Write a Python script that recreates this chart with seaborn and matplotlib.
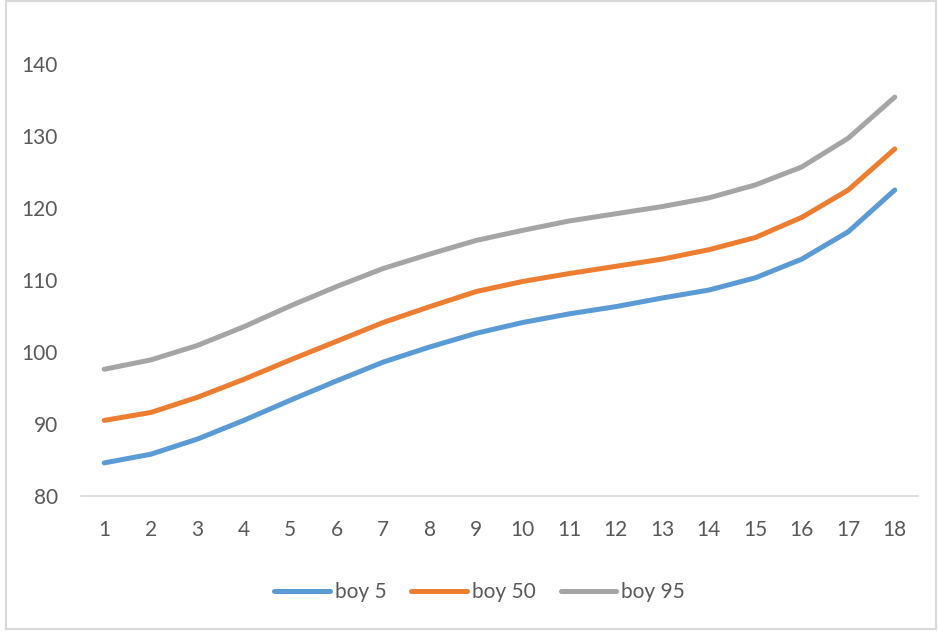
import matplotlib
matplotlib.use("Agg")
import matplotlib.pyplot as plt
from matplotlib.patches import Rectangle
import pandas as pd
import seaborn as sns

# Age categories and height percentiles (cm)
ages = list(range(1, 19))
boy_5 = [84.6, 85.8, 87.9, 90.5, 93.3, 96.0, 98.6, 100.7, 102.6, 104.1,
         105.3, 106.3, 107.5, 108.6, 110.3, 112.9, 116.7, 122.5]
boy_50 = [90.5, 91.6, 93.7, 96.2, 98.9, 101.5, 104.1, 106.3, 108.4, 109.8,
          110.9, 111.9, 112.9, 114.2, 115.9, 118.7, 122.5, 128.2]
boy_95 = [97.6, 98.9, 100.9, 103.5, 106.4, 109.1, 111.6, 113.6, 115.5, 116.9,
          118.2, 119.2, 120.2, 121.4, 123.2, 125.7, 129.7, 135.4]
series_names = ["boy 5", "boy 50", "boy 95"]
y_ticks = [80, 90, 100, 110, 120, 130, 140]

colors = ["#5B9BD5", "#ED7D31", "#A5A5A5"]
text_color = "#595959"

sns.set_style("white")
plt.rcParams["font.family"] = ["Lato", "DejaVu Sans"]

df = pd.DataFrame({
    "age": ages * 3,
    "height": boy_5 + boy_50 + boy_95,
    "series": sum([[n] * len(ages) for n in series_names], []),
})

fig = plt.figure(figsize=(9.38, 6.35), dpi=100)
ax = fig.add_axes([81 / 938, 1 - 496 / 635, (918 - 81) / 938, (496 - 64) / 635])

sns.lineplot(data=df, x="age", y="height", hue="series", hue_order=series_names,
             palette=colors, linewidth=3.6, ax=ax, legend=True,
             solid_capstyle="round", solid_joinstyle="round")

ax.set_xlim(0.5, 18.5)
ax.set_ylim(80, 140)
ax.set_xticks(ages)
ax.set_yticks(y_ticks)
ax.set_xlabel("")
ax.set_ylabel("")
ax.tick_params(axis="both", length=0, labelsize=15, colors=text_color)
ax.tick_params(axis="x", pad=17)
ax.tick_params(axis="y", pad=16.5)
for side in ["top", "right", "left"]:
    ax.spines[side].set_visible(False)
ax.spines["bottom"].set_color("#D9D9D9")
ax.spines["bottom"].set_linewidth(1.2)
ax.spines["bottom"].set_zorder(0)

handles, labels = ax.get_legend_handles_labels()
ax.legend_.remove()
fig.legend(handles, labels, loc="center", bbox_to_anchor=(479.5 / 938, 1 - 592 / 635),
           ncol=3, frameon=False, fontsize=15, handlelength=2.65,
           handletextpad=0.25, columnspacing=1.2, labelcolor=text_color)

# Chart area border
fig.patches.append(Rectangle((6 / 938, 1 - 629 / 635), (936 - 6) / 938, (629 - 1) / 635,
                             transform=fig.transFigure, fill=False,
                             edgecolor="#D9D9D9", linewidth=1.5))

fig.savefig("out.png", dpi=100)
